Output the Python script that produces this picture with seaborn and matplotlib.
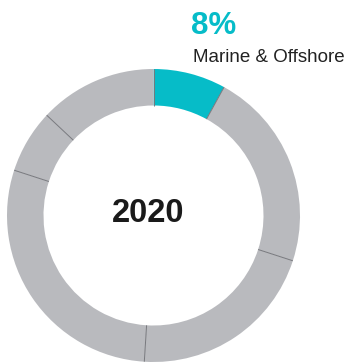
import numpy as np
import matplotlib
matplotlib.use("Agg")
import matplotlib.pyplot as plt
import seaborn as sns

# Revenue share by segment, 2020 (clockwise from 12 o'clock)
segments = ["Marine & Offshore", "Segment B", "Segment C", "Segment D", "Segment E", "Segment F"]
shares = [8, 22, 21, 29, 7, 13]
year_label = "2020"
highlight = "Marine & Offshore"

sns.set_theme(style="white")
plt.rcParams["font.family"] = ["Liberation Sans", "DejaVu Sans"]

teal = "#06bcc8"
grey = "#b9babe"
sep = "#77787d"

fig = plt.figure(figsize=(3.48, 3.62), dpi=100)
ax = fig.add_axes([0, 0, 1, 1])

cx, cy, r_out = 153.5, 146.5, 146.5
ring = 36.5
colors = [teal if s == highlight else grey for s in segments]
ax.pie(shares, colors=colors, startangle=90, counterclock=False,
       center=(cx, cy), radius=r_out, frame=True,
       wedgeprops=dict(width=ring, linewidth=0, antialiased=True))
ax.set_xlim(0, 348)
ax.set_ylim(0, 362)
ax.set_aspect("equal")
ax.axis("off")

# thin radial dividers between segments
bounds = np.cumsum([0] + shares[:-1]) / sum(shares)
for b in bounds:
    ang = np.deg2rad(90 - 360 * b)
    r1, r2 = r_out - ring, r_out
    ax.plot([cx + r1 * np.cos(ang), cx + r2 * np.cos(ang)],
            [cy + r1 * np.sin(ang), cy + r2 * np.sin(ang)],
            color=sep, lw=0.7, solid_capstyle="butt")

ax.text(148.5, 362 - 222, year_label, ha="center", va="baseline",
        fontsize=23.5, fontweight="bold", color="#1a1a1a")

pct = shares[segments.index(highlight)]
ax.text(191.5, 362 - 34, f"{pct}%", ha="left", va="baseline",
        fontsize=22.5, fontweight="bold", color=teal)
ax.text(193, 362 - 62.5, highlight, ha="left", va="baseline",
        fontsize=13.5, color="#222222")

fig.savefig("out.png", dpi=100)
